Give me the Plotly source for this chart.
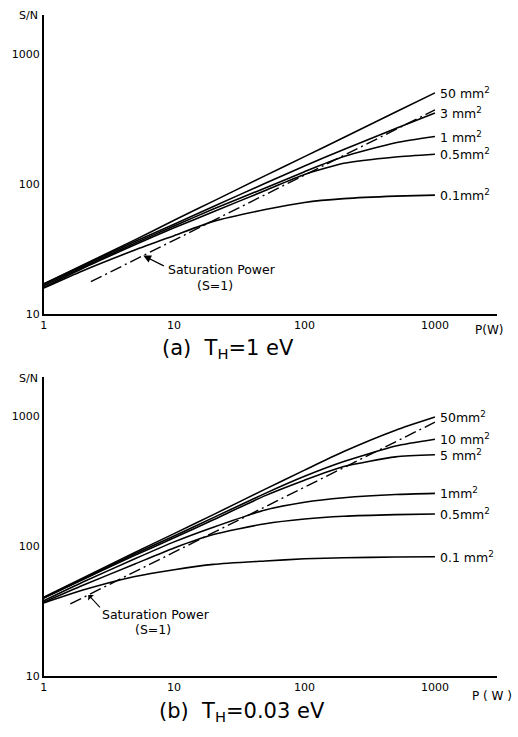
import numpy as np
import plotly.graph_objects as go

W, H = 518, 737

# ---------------- data: panel (a) T_H = 1 eV ----------------
P_a = [1, 2, 5, 10, 20, 50, 100, 200, 500, 1000]
a_50 = [17, 23.8, 37.1, 52.5, 73.7, 115.7, 162, 227, 357, 500]
a_3 = [17, 23.5, 36, 49, 67, 101, 137, 184, 266, 350]
a_1 = [16.5, 23, 35, 47.5, 64, 93, 124, 162, 207, 231]
a_05 = [16, 22.5, 34, 46, 61, 89, 118, 144, 161, 169]
a_01 = [15.8, 21.5, 31, 40, 51.5, 63.5, 72, 77, 80.5, 82]
sat_a_P = [2.3, 1000]
sat_a_S = [17.7, 370]
labels_a = ["50 mm<sup>2</sup>", "3 mm<sup>2</sup>", "1 mm<sup>2</sup>", "0.5mm<sup>2</sup>", "0.1mm<sup>2</sup>"]

# ---------------- data: panel (b) T_H = 0.03 eV ----------------
P_b = [1, 2, 5, 10, 20, 50, 100, 200, 500, 1000]
b_50 = [40.5, 57, 89.5, 125, 175, 275, 385, 535, 780, 985]
b_10 = [40, 56, 87, 120, 166, 255, 345, 448, 590, 665]
b_5 = [40, 55.5, 85, 116, 160, 245, 322, 410, 487, 505]
b_1 = [38, 53, 80, 108, 140, 190, 218, 236, 250, 255]
b_05 = [37, 50, 73, 97, 123, 149, 162, 170, 175, 177]
b_01 = [36.6, 46, 58.5, 66, 72.5, 77, 80, 81.5, 82.5, 83]
sat_b_P = [1.6, 1000]
sat_b_S = [36, 900]
labels_b = ["50mm<sup>2</sup>", "10 mm<sup>2</sup>", "5 mm<sup>2</sup>", "1mm<sup>2</sup>", "0.5mm<sup>2</sup>", "0.1 mm<sup>2</sup>"]

x_major = [1, 10, 100, 1000]
x_major_text = ["1", "10", "100", "1000"]
x_minor = [2, 3, 4, 5, 6, 7, 8, 9, 20, 30, 40, 50, 60, 70, 80, 90,
           200, 300, 400, 500, 600, 700, 800, 900, 2000, 3000]
y_major = [10, 100, 1000]
y_major_text = ["10", "100", "1000"]
y_minor = [20, 30, 40, 50, 60, 70, 80, 90, 200, 300, 400, 500, 600, 700, 800, 900, 2000]

FONT = "DejaVu Sans"
XR = [0, float(np.log10(3000))]
YR = [1, float(np.log10(2000))]

fig = go.Figure()

def px2paper(x, y):
    return x / W, 1 - y / H

def add_panel(P, series, labels, satP, satS, xa, ya):
    for s in series:
        fig.add_trace(go.Scatter(x=P, y=s, mode="lines", xaxis=xa, yaxis=ya,
                                 line=dict(color="black", width=1.6, shape="spline", smoothing=0.6),
                                 showlegend=False, hoverinfo="skip"))
    fig.add_trace(go.Scatter(x=satP, y=satS, mode="lines", xaxis=xa, yaxis=ya,
                             line=dict(color="black", width=1.4, dash="12px,4px,2px,4px"),
                             showlegend=False, hoverinfo="skip"))
    for s, lab in zip(series, labels):
        fig.add_annotation(x=float(np.log10(P[-1])), y=float(np.log10(s[-1])), xref=xa, yref=ya,
                           text=lab, showarrow=False, xanchor="left", yanchor="middle", xshift=3,
                           font=dict(family=FONT, size=12.5, color="black"))

add_panel(P_a, [a_50, a_3, a_1, a_05, a_01], labels_a, sat_a_P, sat_a_S, "x", "y")
add_panel(P_b, [b_50, b_10, b_5, b_1, b_05, b_01], labels_b, sat_b_P, sat_b_S, "x2", "y2")

xd = [40 / W, 497 / W]
yd_a = [1 - 317 / H, 1 - 14.7 / H]
yd_b = [1 - 682.7 / H, 1 - 380.7 / H]

def xaxis_cfg(anchor):
    return dict(type="log", range=XR, domain=xd, anchor=anchor,
                showline=True, linecolor="black", linewidth=1.5,
                ticks="", tickmode="array", tickvals=x_major, ticktext=x_major_text,
                tickfont=dict(family=FONT, size=11, color="black"),
                showgrid=False, zeroline=False)

def yaxis_cfg(anchor, dom):
    return dict(type="log", range=YR, domain=dom, anchor=anchor,
                showline=True, linecolor="black", linewidth=1.5,
                ticks="", tickmode="array", tickvals=y_major, ticktext=y_major_text,
                tickfont=dict(family=FONT, size=11, color="black"),
                showgrid=False, zeroline=False)

fig.update_layout(
    width=W, height=H, margin=dict(l=0, r=0, t=0, b=0),
    paper_bgcolor="white", plot_bgcolor="white",
    xaxis=xaxis_cfg("y"), yaxis=yaxis_cfg("x", yd_a),
    xaxis2=xaxis_cfg("y2"), yaxis2=yaxis_cfg("x2", yd_b),
)

# inward tick marks (axis decorations) drawn as pixel-sized shapes on the axis lines
def add_ticks(xa, ya):
    for v in x_major + x_minor:
        L = 8 if v in x_major else 5
        fig.add_shape(type="line", xref=xa, yref=ya, x0=float(np.log10(v)), x1=float(np.log10(v)),
                      ysizemode="pixel", yanchor=YR[0], y0=0, y1=L,
                      line=dict(color="black", width=1.2), layer="above")
    for v in y_major + y_minor:
        L = 8 if v in y_major else 5
        fig.add_shape(type="line", xref=xa, yref=ya, y0=float(np.log10(v)), y1=float(np.log10(v)),
                      xsizemode="pixel", xanchor=XR[0], x0=0, x1=L,
                      line=dict(color="black", width=1.2), layer="above")

add_ticks("x", "y")
add_ticks("x2", "y2")

def text_ann(x, y, text, size, xanchor="center"):
    xp, yp = px2paper(x, y)
    fig.add_annotation(x=xp, y=yp, xref="paper", yref="paper", text=text, showarrow=False,
                       xanchor=xanchor, yanchor="middle",
                       font=dict(family=FONT, size=size, color="black"))

# axis titles
text_ann(25, 16, "S/N", 11)
text_ann(25, 382, "S/N", 11)
text_ann(489, 333, "P(W)", 12)
text_ann(492, 703, "P ( W )", 12)

# panel captions
text_ann(226, 352, "(a)  T<sub>H</sub>=1 eV", 21)
text_ann(240, 719, "(b)  T<sub>H</sub>=0.03 eV", 21)

# saturation labels
text_ann(163, 272, "Saturation Power", 12.5, xanchor="left")
text_ann(213, 288, "(S=1)", 12.5)
text_ann(97, 620, "Saturation Power", 12.5, xanchor="left")
text_ann(150, 636, "(S=1)", 12.5)

# arrows to saturation lines
def sat_at(Pv, satP, satS):
    return 10 ** np.interp(np.log10(Pv), np.log10(satP), np.log10(satS))

Pa_head = 5.8
fig.add_annotation(x=float(np.log10(Pa_head)), y=float(np.log10(sat_at(Pa_head, sat_a_P, sat_a_S))),
                   xref="x", yref="y", text="", showarrow=True, arrowhead=2, arrowsize=1.2,
                   arrowwidth=1.3, arrowcolor="black", ax=22, ay=11)
Pb_head = 2.2
fig.add_annotation(x=float(np.log10(Pb_head)), y=float(np.log10(sat_at(Pb_head, sat_b_P, sat_b_S))),
                   xref="x2", yref="y2", text="", showarrow=True, arrowhead=1, arrowsize=1.2,
                   arrowwidth=1.1, arrowcolor="black", ax=13, ay=14)

fig.write_html("out.html")
